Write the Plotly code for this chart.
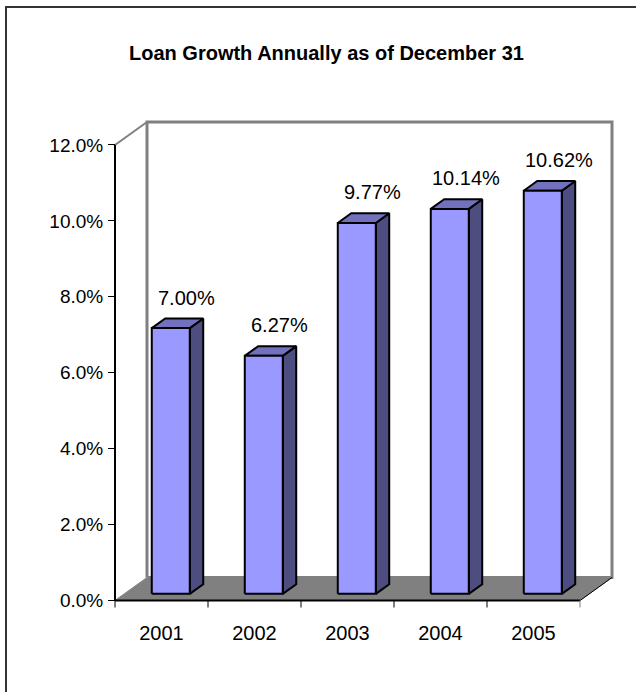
import plotly.graph_objects as go

# Annual loan growth, percent
years = ["2001", "2002", "2003", "2004", "2005"]
growth = [7.00, 6.27, 9.77, 10.14, 10.62]
value_text = ["7.00%", "6.27%", "9.77%", "10.14%", "10.62%"]
y_ticks = [0, 2, 4, 6, 8, 10, 12]
y_tick_text = ["0.0%", "2.0%", "4.0%", "6.0%", "8.0%", "10.0%", "12.0%"]

FONT = "Liberation Sans, Arial, sans-serif"
W, H = 636, 692
PX_X = 93.0           # pixels per category
PX_Y = 38.0           # pixels per percentage point
AXIS_LEFT_PX = 115.0  # x pixel of the front value axis
AXIS_TOP_PX = 145.0   # y pixel of 12% on the front plane
DX = 32.0 / PX_X      # depth offset (x) in category units
DY = 23.0 / PX_Y      # depth offset (y) in percent units
PAD = 4.0             # spare pixels so edge lines are not clipped

x0, x1 = -0.5, len(years) - 0.5
ymax = 12.0
y_lo = -0.25
xr = [x0 - PAD / PX_X, x1 + DX + PAD / PX_X]
yr = [y_lo, ymax + DY + PAD / PX_Y]
plot_w = (xr[1] - xr[0]) * PX_X
plot_h = (yr[1] - yr[0]) * PX_Y
m_l = AXIS_LEFT_PX - PAD
m_t = AXIS_TOP_PX - (yr[1] - ymax) * PX_Y
m_r = W - m_l - plot_w
m_b = H - m_t - plot_h

GRAY = "#808080"
FRONT = "#9999FF"
TOP = "#7171BD"
SIDE = "#4D4D80"

fig = go.Figure()


def poly(xs, ys, fill, line_color, line_width):
    fig.add_trace(go.Scatter(
        x=list(xs) + [xs[0]], y=list(ys) + [ys[0]], mode="lines",
        fill="toself", fillcolor=fill,
        line=dict(color=line_color, width=line_width),
        hoverinfo="skip", showlegend=False))


def seg(xs, ys, color, width):
    fig.add_trace(go.Scatter(
        x=xs, y=ys, mode="lines", line=dict(color=color, width=width),
        hoverinfo="skip", showlegend=False))


# back wall
poly([x0 + DX, x1 + DX, x1 + DX, x0 + DX],
     [DY, DY, ymax + DY, ymax + DY], "white", GRAY, 3)
# left wall top edge
seg([x0, x0 + DX], [ymax, ymax + DY], GRAY, 2)
# floor
poly([x0, x1, x1 + DX, x0 + DX], [0, 0, DY, DY], GRAY, GRAY, 1)
seg([x1, x1 + DX], [0, DY], "black", 1)

# 3-D columns
BAR_W = 38.0 / PX_X
D0, D1 = 0.29, 0.71
for i, v in enumerate(growth):
    xl = i - BAR_W / 2 + D0 * DX
    xrt = i + BAR_W / 2 + D0 * DX
    ex = (D1 - D0) * DX
    b0 = D0 * DY
    b1 = D1 * DY
    poly([xrt, xrt, xrt + ex, xrt + ex], [b0, v + b0, v + b1, b1], SIDE, "black", 2)
    poly([xl, xrt, xrt + ex, xl + ex], [v + b0, v + b0, v + b1, v + b1], TOP, "black", 2)
    poly([xl, xrt, xrt, xl], [b0, b0, v + b0, v + b0], FRONT, "black", 2)

# value axis line and category axis line with boundary ticks
seg([x0, x0], [0, ymax], "black", 2)
seg([x0, x1], [0, 0], "black", 2)
for k in range(len(years) + 1):
    seg([x0 + k, x0 + k], [0, -7.0 / PX_Y], "black" if k < len(years) else GRAY, 1)

annotations = []
for i, v in enumerate(growth):
    annotations.append(dict(
        x=i + 0.27, y=v + 0.98, xref="x", yref="y", text=value_text[i],
        showarrow=False, xanchor="center", yanchor="middle",
        font=dict(family=FONT, size=20, color="black")))

annotations.append(dict(
    x=(326 - m_l) / plot_w, y=1 + (m_t - 53) / plot_h, xref="paper", yref="paper",
    text="<b>Loan Growth Annually as of December 31</b>", showarrow=False,
    xanchor="center", yanchor="middle",
    font=dict(family=FONT, size=20, color="black")))

fig.update_layout(
    width=W, height=H,
    margin=dict(l=m_l, r=m_r, t=m_t, b=m_b, pad=0),
    paper_bgcolor="white", plot_bgcolor="white",
    showlegend=False,
    annotations=annotations,
    shapes=[dict(type="rect", xref="paper", yref="paper",
                 x0=(6 - m_l) / plot_w, x1=(700 - m_l) / plot_w,
                 y0=1 + (m_t - 760) / plot_h, y1=1 + (m_t - 7) / plot_h,
                 line=dict(color="#333333", width=2), fillcolor="rgba(0,0,0,0)")],
    xaxis=dict(range=xr, showgrid=False, zeroline=False, showline=False,
               tickmode="array", tickvals=list(range(len(years))), ticktext=years,
               ticks="", ticklabelstandoff=9,
               tickfont=dict(family=FONT, size=20, color="black"), fixedrange=True),
    yaxis=dict(range=yr, showgrid=False, zeroline=False, showline=False,
               anchor="free", position=PAD / plot_w,
               tickmode="array", tickvals=y_ticks, ticktext=y_tick_text,
               ticks="outside", ticklen=7, tickwidth=1, tickcolor="black",
               ticklabelstandoff=1,
               tickfont=dict(family=FONT, size=19, color="black"), fixedrange=True),
)

fig.write_html("out.html")
